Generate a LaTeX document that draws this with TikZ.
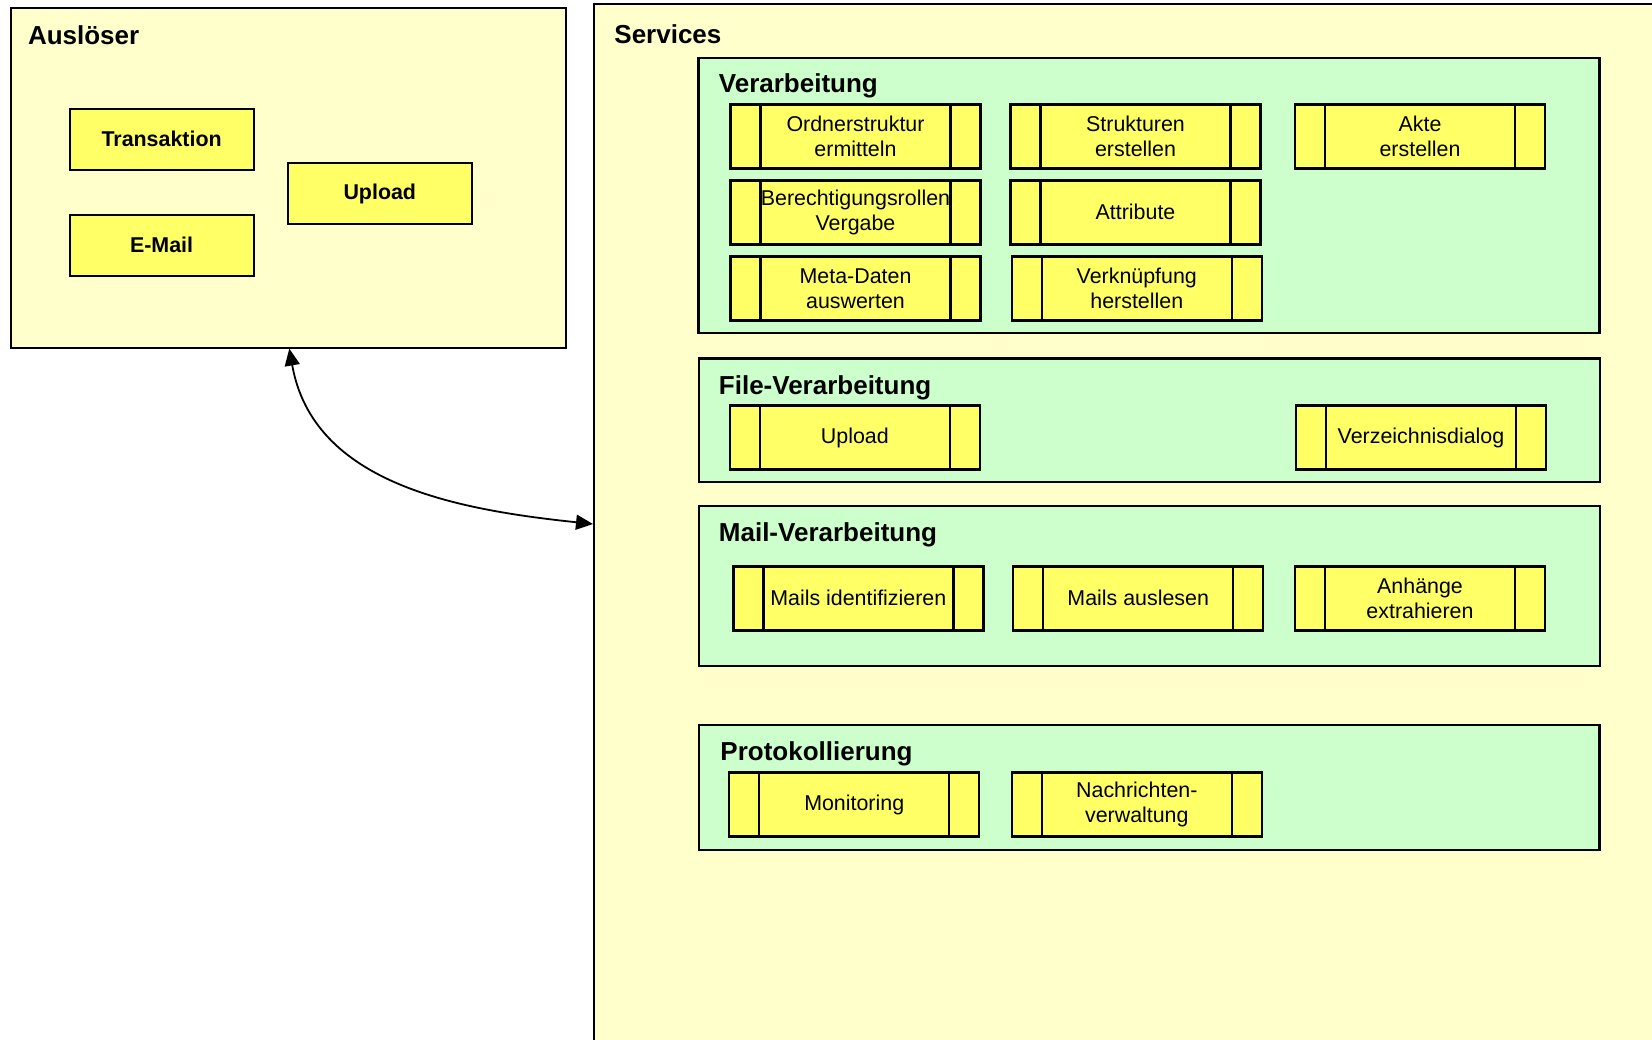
\documentclass[tikz,border=0pt]{standalone}
\usepackage{fontspec}
\setmainfont{Liberation Sans}
\usetikzlibrary{arrows.meta}
\definecolor{bgyellow}{HTML}{FFFFCC}
\definecolor{bggreen}{HTML}{CCFFCC}
\definecolor{boxyellow}{HTML}{FFFF66}
\begin{document}
\begin{tikzpicture}[x=0.5pt,y=-0.5pt,
 container/.style={draw, line width=1pt, fill=bgyellow, rectangle, inner sep=0pt},
 group/.style={draw, line width=1.1pt, fill=bggreen, rectangle, inner sep=0pt},
 title/.style={anchor=base west, inner sep=0pt, font=\fontsize{13}{15}\selectfont\bfseries},
 trig/.style={draw, line width=1pt, fill=boxyellow, minimum width=92pt, minimum height=30.5pt, inner sep=0pt, font=\fontsize{10.7}{12.5}\selectfont\bfseries},
 svc/.style={draw, line width=1.2pt, fill=boxyellow, minimum width=125pt, minimum height=32pt, inner sep=0pt, align=center, font=\fontsize{10.7}{12.5}\selectfont,
   path picture={\draw[line width=1.2pt] ([xshift=15pt]path picture bounding box.north west) -- ([xshift=15pt]path picture bounding box.south west);
                 \draw[line width=1.2pt] ([xshift=-15pt]path picture bounding box.north east) -- ([xshift=-15pt]path picture bounding box.south east);}},
 link/.style={line width=0.9pt, {Triangle[length=8.5pt,width=7.5pt]}-{Triangle[length=8.5pt,width=7.5pt]}}
]
\clip (0,0) rectangle (1652,1039);
\fill[white] (0,0) rectangle (1652,1039);

% containers
\node[container, minimum width=277.6pt, minimum height=169.6pt] (aus) at (288.1,178) {};
\node[container, minimum width=538pt, minimum height=528pt] (services) at (1132,532) {};

\node[title] (tAus) at (27.6,44.5) {Auslöser};
\node[title] (tSvc) at (614,43.5) {Services};

% trigger boxes
\node[trig] (trans) at (161.6,139.3) {Transaktion};
\node[trig] (email) at (161.6,245) {E-Mail};
\node[trig] (upl) at (379.8,193.8) {Upload};

% groups
\node[group, minimum width=450.5pt, minimum height=137.7pt] (verarb) at (1149,195.3) {};
\node[group, minimum width=450.7pt, minimum height=61.8pt] (filev) at (1149.3,420.2) {};
\node[group, minimum width=450.7pt, minimum height=79.9pt] (mailv) at (1149.3,585.9) {};
\node[group, minimum width=450.2pt, minimum height=62.2pt] (protv) at (1149.2,787.5) {};

\node[title] (tVer) at (718.5,92.7) {Verarbeitung};
\node[title] (tFile) at (718.5,394.5) {File-Verarbeitung};
\node[title] (tMail) at (718.5,541.5) {Mail-Verarbeitung};
\node[title] (tProt) at (720,760.7) {Protokollierung};

% Verarbeitung services
\node[svc] (s11) at (855.5,136.3) {Ordnerstruktur\\ ermitteln};
\node[svc] (s12) at (1135.5,136.3) {Strukturen\\ erstellen};
\node[svc] (s13) at (1420,136.3) {Akte\\ erstellen};
\node[svc] (s21) at (855.5,212.3) {Berechtigungsrollen\\ Vergabe};
\node[svc] (s22) at (1135.5,212.3) {Attribute};
\node[svc] (s31) at (855.5,288.5) {Meta-Daten\\ auswerten};
\node[svc] (s32) at (1136.8,288.5) {Verknüpfung\\ herstellen};

% File-Verarbeitung
\node[svc] (fupl) at (854.8,437.5) {Upload};
\node[svc] (fdir) at (1421,437.5) {Verzeichnisdialog};

% Mail-Verarbeitung
\node[svc] (mid) at (858.3,598.3) {Mails identifizieren};
\node[svc] (mread) at (1138.2,598.3) {Mails auslesen};
\node[svc] (matt) at (1420,598.3) {Anhänge\\ extrahieren};

% Protokollierung
\node[svc] (pmon) at (854.2,804.5) {Monitoring};
\node[svc] (pmsg) at (1136.8,804.5) {Nachrichten-\\ verwaltung};

% connector
\draw[link] ([xshift=0.6pt]aus.south) to[out=-80, in=174] ([yshift=4pt]services.west);
\end{tikzpicture}
\end{document}
